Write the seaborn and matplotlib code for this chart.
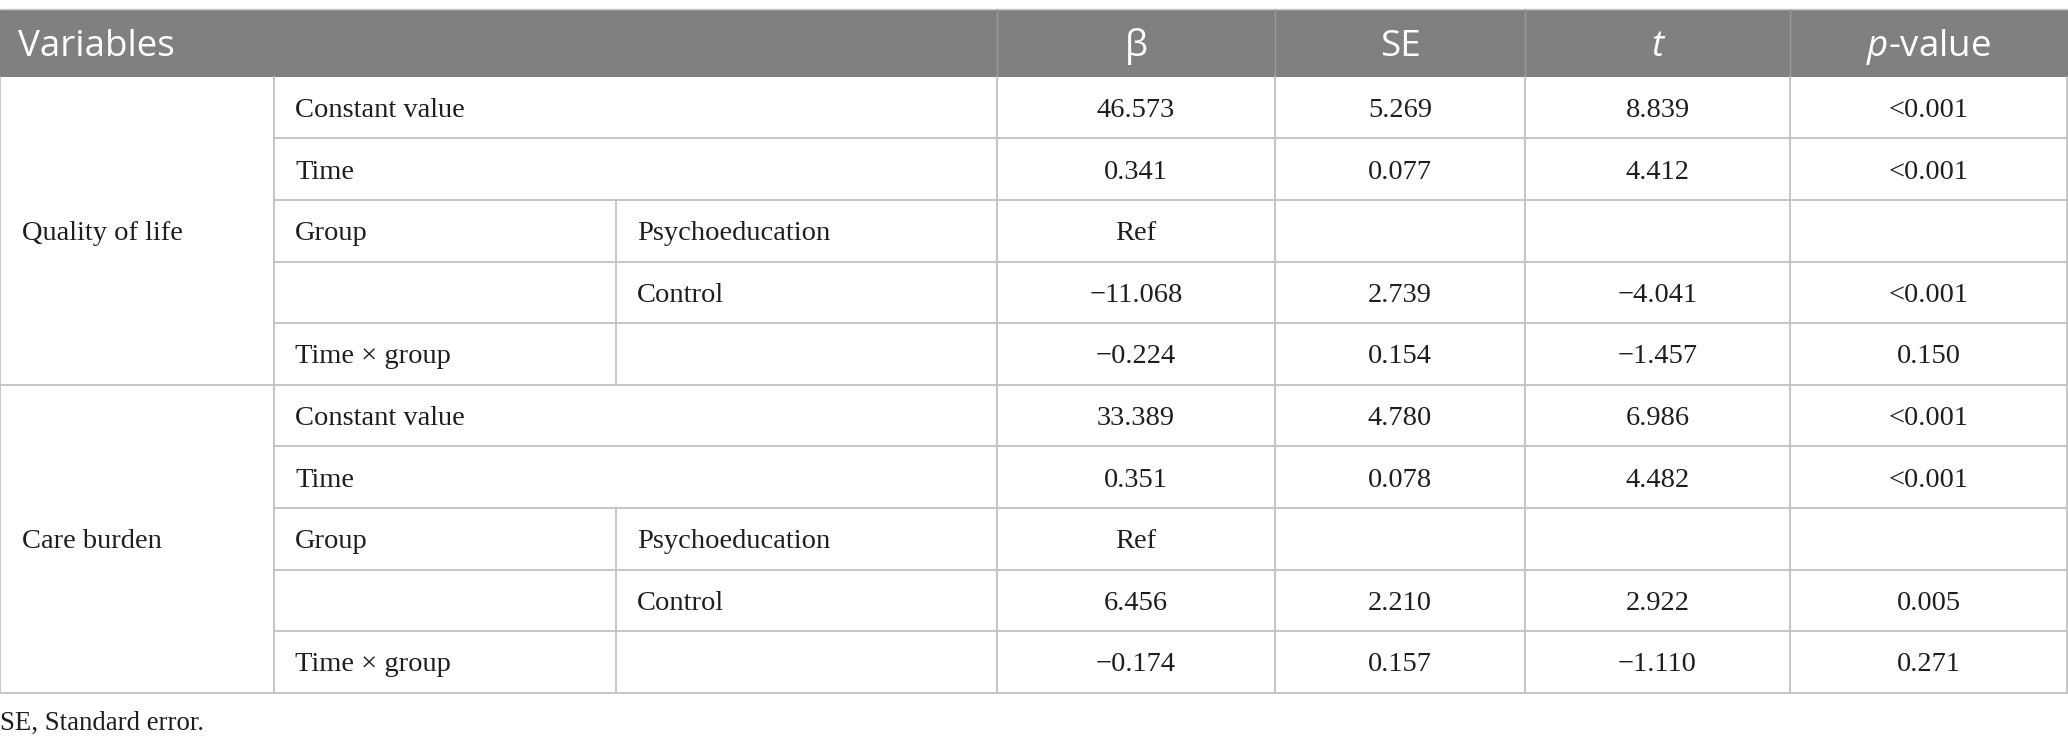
import matplotlib
matplotlib.use("Agg")
import matplotlib.pyplot as plt
import seaborn as sns

# data of the table
outcomes = ["Quality of life", "Care burden"]
terms = ["Constant value", "Time", "Group", "", "Time \u00d7 group"]
levels = ["", "", "Psychoeducation", "Control", ""]
beta = [["46.573", "0.341", "Ref", "\u221211.068", "\u22120.224"],
        ["33.389", "0.351", "Ref", "6.456", "\u22120.174"]]
se = [["5.269", "0.077", "", "2.739", "0.154"],
      ["4.780", "0.078", "", "2.210", "0.157"]]
t_vals = [["8.839", "4.412", "", "\u22124.041", "\u22121.457"],
          ["6.986", "4.482", "", "2.922", "\u22121.110"]]
p_vals = [["<0.001", "<0.001", "", "<0.001", "0.150"],
          ["<0.001", "<0.001", "", "0.005", "0.271"]]
headers = ["\u03b2", "SE", "t", "$p$-value"]
footnote = "SE, Standard error."

sns.set_theme(style="white")
plt.rcParams["mathtext.fontset"] = "custom"
plt.rcParams["mathtext.it"] = "Open Sans:italic"
plt.rcParams["mathtext.rm"] = "Open Sans"

W, H = 2068, 749
fig = plt.figure(figsize=(W / 100, H / 100), dpi=100)
ax = fig.add_axes([0, 0, 1, 1])
ax.set_xlim(0, W)
ax.set_ylim(H, 0)
ax.axis("off")

# layout
cols = [0, 274, 616, 997, 1275, 1525, 1790, W - 1]
head_top, head_bot = 9, 76.7
row_h = 61.6
line_c = "#c2c2c2"
head_c = "#808080"
txt_c = "#1e1e1e"
serif = "Liberation Serif"
sans = "Open Sans"
body_fs = 20.5
head_fs = 26.5
dy_body = 3
dy_head = 4

ax.fill_between([0, W], head_top, head_bot, color=head_c, lw=0)
ax.plot([0, W], [head_top, head_top], color="#d0d0d0", lw=1)
for x in cols[3:-1]:
    ax.plot([x, x], [head_top, head_bot], color="#9a9a9a", lw=1)

head_y = (head_top + head_bot) / 2 + dy_head
ax.text(18, head_y, "Variables", color="white", fontsize=head_fs,
        family=sans, va="center", ha="left")
for i, h in enumerate(headers):
    cx = (cols[3 + i] + cols[4 + i]) / 2
    ax.text(cx, head_y, h, color="white", fontsize=head_fs,
            family=sans, va="center", ha="center",
            style="italic" if h == "t" else "normal")

n_rows = len(terms) * len(outcomes)
body_bot = head_bot + n_rows * row_h

# vertical lines
for x in [cols[0], cols[1], cols[3], cols[4], cols[5], cols[6], cols[7]]:
    ax.plot([x, x], [head_bot, body_bot], color=line_c, lw=1.3)

for b, outcome in enumerate(outcomes):
    top = head_bot + b * len(terms) * row_h
    bot = top + len(terms) * row_h
    ax.plot([0, W], [bot, bot], color=line_c, lw=1.3)
    ax.text(22, (top + bot) / 2 + dy_body, outcome, fontsize=body_fs, family=serif,
            color=txt_c, va="center", ha="left")
    # vertical line between term and level for group rows
    ax.plot([cols[2], cols[2]], [top + 2 * row_h, bot], color=line_c, lw=1.3)
    for r in range(len(terms)):
        y0 = top + r * row_h
        yc = y0 + row_h / 2 + dy_body
        if r < len(terms) - 1:
            ax.plot([cols[1], W], [y0 + row_h, y0 + row_h], color=line_c, lw=1.3)
        ax.text(cols[1] + 21, yc, terms[r], fontsize=body_fs, family=serif,
                color=txt_c, va="center", ha="left")
        ax.text(cols[2] + 21, yc, levels[r], fontsize=body_fs, family=serif,
                color=txt_c, va="center", ha="left")
        for j, vals in enumerate([beta, se, t_vals, p_vals]):
            cx = (cols[3 + j] + cols[4 + j]) / 2
            ax.text(cx, yc, vals[b][r], fontsize=body_fs, family=serif,
                    color=txt_c, va="center", ha="center")

ax.text(0, body_bot + 31, footnote, fontsize=19.3, family=serif,
        color=txt_c, va="center", ha="left")

fig.savefig("out.png", dpi=100)
